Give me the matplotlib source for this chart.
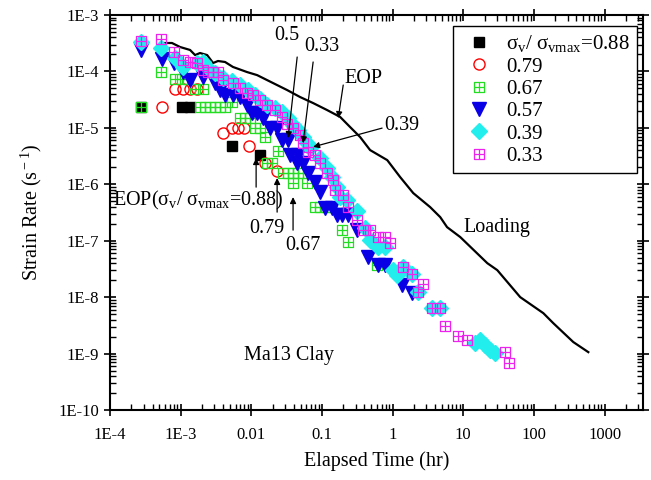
import numpy as np
import matplotlib
matplotlib.use("Agg")
import matplotlib.pyplot as plt
from matplotlib.path import Path
from matplotlib.ticker import LogLocator, FixedLocator, FixedFormatter, NullFormatter

plt.rcParams['font.family'] = ['Liberation Serif', 'DejaVu Serif']
plt.rcParams['mathtext.fontset'] = 'custom'
plt.rcParams['mathtext.rm'] = 'Liberation Serif'
plt.rcParams['mathtext.it'] = 'Liberation Serif'
plt.rcParams['mathtext.bf'] = 'Liberation Serif:bold'

# ---------------- data (elapsed time in hr, strain rate in 1/s) ----------------
t_088 = [2.75e-4, 1.05e-3, 1.36e-3, 5.3e-3, 1.33e-2]
r_088 = [2.34e-5, 2.34e-5, 2.34e-5, 4.76e-6, 3.29e-6]

t_079 = [5.45e-4, 8.3e-4, 1.08e-3, 1.36e-3, 1.71e-3, 3.98e-3, 5.35e-3, 6.45e-3,
         7.9e-3, 9.3e-3, 1.57e-2, 2.32e-2]
r_079 = [2.34e-5, 4.87e-5, 4.87e-5, 4.87e-5, 4.87e-5, 8.1e-6, 9.9e-6, 9.9e-6,
         9.9e-6, 4.76e-6, 2.37e-6, 1.75e-6]

t_067 = [2.75e-4, 5.27e-4, 8.3e-4, 1.05e-3, 1.27e-3, 1.6e-3, 2.08e-3,
         1.88e-3, 2.21e-3, 2.6e-3, 3.07e-3, 3.61e-3, 4.25e-3, 5.35e-3,
         6.95e-3, 8.2e-3, 9.6e-3, 1.13e-2, 1.33e-2, 1.57e-2, 2.4e-2,
         1.67e-2, 1.97e-2, 2.82e-2, 3.32e-2, 3.9e-2, 4.6e-2, 5.4e-2,
         3.9e-2, 6.17e-2, 8.0e-2, 9.4e-2, 0.115, 0.139, 0.193, 0.235, 0.6]
r_067 = [2.34e-5, 9.75e-5, 7.33e-5, 7.33e-5, 7.33e-5, 4.87e-5, 4.87e-5,
         2.34e-5, 2.34e-5, 2.34e-5, 2.34e-5, 2.34e-5, 2.34e-5, 2.87e-5,
         1.49e-5, 1.49e-5, 1.49e-5, 9.9e-6, 9.9e-6, 6.87e-6, 3.88e-6,
         2.37e-6, 2.37e-6, 1.58e-6, 1.58e-6, 1.58e-6, 1.58e-6, 1.58e-6,
         1.05e-6, 1.05e-6, 3.94e-7, 3.94e-7, 3.94e-7, 3.94e-7, 1.54e-7, 9.4e-8, 3.69e-8]

t_057 = [2.75e-4, 5.45e-4, 8.04e-4, 1.08e-3, 1.36e-3, 2.08e-3, 3.07e-3, 3.61e-3,
         4.25e-3, 5.5e-3, 6.95e-3, 8.7e-3, 1.03e-2, 1.21e-2, 1.47e-2, 1.85e-2,
         2.32e-2, 2.73e-2, 3.32e-2, 3.54e-2, 4.6e-2, 4.46e-2, 5.4e-2, 6.37e-2,
         8.0e-2, 9.4e-2, 0.11, 0.139, 0.164, 0.193, 0.235, 0.315, 0.45, 0.62,
         0.79, 1.37, 1.9]
r_057 = [2.4e-4, 1.66e-4, 1.41e-4, 9.75e-5, 7.03e-5, 7.96e-5, 6.22e-5, 4.68e-5,
         3.81e-5, 3.81e-5, 3.52e-5, 2.54e-5, 1.83e-5, 1.83e-5, 1.49e-5, 9.9e-6,
         9.9e-6, 6.08e-6, 6.08e-6, 3.29e-6, 3.29e-6, 2.37e-6, 2.37e-6, 1.58e-6,
         1.09e-6, 7.27e-7, 3.79e-7, 3.79e-7, 2.84e-7, 2.84e-7, 2.84e-7, 1.54e-7,
         5.12e-8, 3.69e-8, 3.69e-8, 1.63e-8, 1.18e-8]

t_039 = [2.75e-4, 5.27e-4, 8.3e-4, 1.08e-3, 1.71e-3, 2.08e-3, 2.6e-3, 3.07e-3,
         3.98e-3, 5.35e-3, 6.95e-3, 8.98e-3, 1.13e-2, 1.33e-2, 1.67e-2, 2.17e-2,
         2.73e-2, 3.32e-2, 3.9e-2, 4.6e-2, 5.4e-2, 6.17e-2, 6.8e-2, 9.4e-2,
         0.118, 0.139, 0.164, 0.181, 0.228, 0.315, 0.409, 0.48, 0.62, 0.79,
         1.0, 1.16, 1.41, 1.9, 2.3, 3.64, 4.72, 14.8, 17.4, 20.5, 24.1, 28.4]
r_039 = [3.32e-4, 2.6e-4, 1.73e-4, 1.2e-4, 1.41e-4, 1.47e-4, 1.06e-4, 9.37e-5,
         7.64e-5, 6.75e-5, 5.74e-5, 4.68e-5, 3.81e-5, 3.24e-5, 2.54e-5, 2.25e-5,
         1.9e-5, 1.49e-5, 1.12e-5, 9.1e-6, 6.87e-6, 5.37e-6, 4.38e-6, 2.91e-6,
         1.94e-6, 1.34e-6, 8.9e-7, 5.93e-7, 5.24e-7, 3.35e-7, 1.67e-7, 1.03e-7,
         7.7e-8, 7.7e-8, 3.01e-8, 2.45e-8, 3.4e-8, 2.56e-8, 1.23e-8, 6.38e-9,
         6.38e-9, 1.53e-9, 1.73e-9, 1.41e-9, 1.15e-9, 1.02e-9]

t_033 = [2.75e-4, 5.27e-4, 8.04e-4, 1.08e-3, 1.36e-3, 1.71e-3, 2.08e-3, 2.45e-3,
         2.88e-3, 3.38e-3, 3.98e-3, 5.5e-3, 6.95e-3, 8.7e-3, 1.06e-2, 1.33e-2,
         1.67e-2, 2.17e-2, 2.73e-2, 3.21e-2, 3.9e-2, 4.9e-2, 5.4e-2, 6.37e-2,
         8.0e-2, 9.4e-2, 0.118, 0.144, 0.154, 0.2, 0.235, 0.315, 0.383, 0.48,
         0.62, 0.79, 0.92, 1.41, 1.9, 2.71, 2.3, 3.64, 4.72, 5.56, 8.5, 11.4,
         39.3, 44.8]
r_033 = [3.46e-4, 3.75e-4, 2.2e-4, 1.6e-4, 1.47e-4, 1.41e-4, 1.06e-4, 9.75e-5,
         9.75e-5, 9.75e-5, 7.03e-5, 6.22e-5, 5.08e-5, 4.14e-5, 3.81e-5, 3.11e-5,
         2.54e-5, 2.07e-5, 1.56e-5, 1.17e-5, 9.9e-6, 7.45e-6, 5.37e-6, 3.72e-6,
         3.29e-6, 2.37e-6, 1.58e-6, 1.19e-6, 7.9e-7, 6.43e-7, 3.94e-7, 2.32e-7,
         1.54e-7, 1.54e-7, 1.16e-7, 1.16e-7, 9.07e-8, 3.4e-8, 2.56e-8, 1.7e-8,
         1.23e-8, 6.38e-9, 6.38e-9, 3.07e-9, 2.03e-9, 1.73e-9, 1.06e-9, 6.75e-10]

t_load = [5.45e-4, 7.54e-4, 9.8e-4, 1.36e-3, 1.6e-3, 1.88e-3, 2.37e-3, 2.88e-3,
          3.38e-3, 4.25e-3, 5.5e-3, 8.7e-3, 1.21e-2, 1.67e-2, 3.21e-2, 4.9e-2,
          7.5e-2, 0.118, 0.181, 0.251, 0.347, 0.48, 0.84, 1.28, 1.96, 3.4, 4.72,
          5.9, 9.07, 21.9, 30.3, 64, 136, 188, 361, 589]
r_load = [3.19e-4, 3.19e-4, 2.71e-4, 2.4e-4, 1.95e-4, 2.12e-4, 1.95e-4, 1.41e-4,
          1.53e-4, 1.47e-4, 1.2e-4, 9.75e-5, 8.6e-5, 7.03e-5, 4.68e-5, 3.52e-5,
          2.75e-5, 2.07e-5, 1.56e-5, 1.03e-5, 6.87e-6, 4.04e-6, 2.68e-6, 1.34e-6,
          6.98e-7, 3.94e-7, 2.62e-7, 1.74e-7, 1.16e-7, 4.0e-8, 3.01e-8, 1e-8,
          5.2e-9, 3.46e-9, 1.6e-9, 1.06e-9]

x_ticks = [1e-4, 1e-3, 1e-2, 1e-1, 1, 10, 100, 1000]
x_ticklabels = ['1E-4', '1E-3', '0.01', '0.1', '1', '10', '100', '1000']
y_ticks = [1e-10, 1e-9, 1e-8, 1e-7, 1e-6, 1e-5, 1e-4, 1e-3]
y_ticklabels = ['1E-10', '1E-9', '1E-8', '1E-7', '1E-6', '1E-5', '1E-4', '1E-3']

# ---------------- figure ----------------
fig = plt.figure(figsize=(6.51, 4.8), dpi=100)
ax = fig.add_axes([110/651, 70/480, 533/651, 395/480])

grid_sq = Path([(-1, -1), (1, -1), (1, 1), (-1, 1), (-1, -1),
                (0, -1), (0, 1), (-1, 0), (1, 0)],
               [Path.MOVETO, Path.LINETO, Path.LINETO, Path.LINETO, Path.LINETO,
                Path.MOVETO, Path.LINETO, Path.MOVETO, Path.LINETO])

ax.plot(t_load, r_load, color='black', lw=1.6, zorder=2)

h1, = ax.plot(t_088, r_088, ls='none', marker='s', ms=7.5, color='black',
              label=r'$\sigma_{\rm v}$/ $\sigma_{\rm vmax}$=0.88', zorder=3)
h2, = ax.plot(t_079, r_079, ls='none', marker='o', ms=8, mfc='none', mec='red',
              mew=1.0, label='0.79', zorder=3)
h3, = ax.plot(t_067, r_067, ls='none', marker=grid_sq, ms=7, mfc='none',
              mec='#22dd22', mew=0.9, label='0.67', zorder=3)
h4, = ax.plot(t_057, r_057, ls='none', marker='v', ms=10, color='#0a00e6',
              label='0.57', zorder=3)
h5, = ax.plot(t_039, r_039, ls='none', marker='D', ms=8, color='#22eeee',
              mec='#22eeee', label='0.39', zorder=3)
h6, = ax.plot(t_033, r_033, ls='none', marker=grid_sq, ms=7, mfc='none',
              mec='#ee22ee', mew=0.9, label='0.33', zorder=3)

ax.set_xscale('log')
ax.set_yscale('log')
ax.set_xlim(1e-4, 3500)
ax.set_ylim(1e-10, 1e-3)

ax.xaxis.set_major_locator(FixedLocator(x_ticks))
ax.xaxis.set_major_formatter(FixedFormatter(x_ticklabels))
ax.yaxis.set_major_locator(FixedLocator(y_ticks))
ax.yaxis.set_major_formatter(FixedFormatter(y_ticklabels))
ax.xaxis.set_minor_locator(LogLocator(base=10, subs=np.arange(2, 10), numticks=20))
ax.yaxis.set_minor_locator(LogLocator(base=10, subs=np.arange(2, 10), numticks=20))
ax.xaxis.set_minor_formatter(NullFormatter())
ax.yaxis.set_minor_formatter(NullFormatter())

ax.tick_params(which='major', direction='inout', length=8, width=1.2,
               top=True, right=True, labelsize=12)
ax.tick_params(which='minor', direction='in', length=4, width=1.0,
               top=True, right=True)
ax.tick_params(axis='x', which='major', pad=8)
ax.tick_params(axis='y', which='major', pad=4)
for s in ax.spines.values():
    s.set_linewidth(1.5)

ax.set_xlabel('Elapsed Time (hr)', fontsize=14.5, labelpad=6)
ax.set_ylabel(r'Strain Rate (s$^{\rm -1}$)', fontsize=14.5, labelpad=10)

leg = ax.legend(handles=[h1, h2, h3, h4, h5, h6], loc='upper right',
                bbox_to_anchor=(0.989, 0.972), borderaxespad=0, fontsize=15,
                frameon=True, fancybox=False, edgecolor='black', framealpha=1,
                handlelength=1.8, handletextpad=0.4, labelspacing=0.13,
                borderpad=0.35, numpoints=1)
leg.get_frame().set_linewidth(1.0)

# ---------------- annotations ----------------
afs = 14.5
arrow = dict(arrowstyle='-|>', color='black', lw=0.9, shrinkA=0, shrinkB=0,
             mutation_scale=9)

ax.text(3.21e-2, 4.42e-4, '0.5', fontsize=afs, ha='center', va='center')
ax.annotate('', xy=(3.32e-2, 6.6e-6), xytext=(4.46e-2, 1.8e-4), arrowprops=arrow)

ax.text(0.1, 2.71e-4, '0.33', fontsize=afs, ha='center', va='center')
ax.annotate('', xy=(5.4e-2, 5.37e-6), xytext=(7.5e-2, 1.47e-4), arrowprops=arrow)

ax.text(0.383, 7.64e-5, 'EOP', fontsize=afs, ha='center', va='center')
ax.annotate('', xy=(0.17, 1.49e-5), xytext=(0.2, 5.74e-5), arrowprops=arrow)

ax.text(1.37, 1.12e-5, '0.39', fontsize=afs, ha='center', va='center')
ax.annotate('', xy=(7.5e-2, 4.6e-6), xytext=(0.71, 9.9e-6), arrowprops=arrow)

ax.text(1.1e-4, 5.24e-7, r'EOP($\sigma_{\rm v}$/ $\sigma_{\rm vmax}$=0.88)',
        fontsize=afs, ha='left', va='center')
ax.annotate('', xy=(1.17e-2, 2.91e-6), xytext=(1.17e-2, 8.9e-7), arrowprops=arrow)

ax.text(1.67e-2, 1.67e-7, '0.79', fontsize=afs, ha='center', va='center')
ax.annotate('', xy=(2.32e-2, 1.29e-6), xytext=(2.32e-2, 3.21e-7), arrowprops=arrow)

ax.text(5.4e-2, 8.35e-8, '0.67', fontsize=afs, ha='center', va='center')
ax.annotate('', xy=(3.9e-2, 5.93e-7), xytext=(3.9e-2, 1.54e-7), arrowprops=arrow)

ax.text(3.4e-2, 9.4e-10, 'Ma13 Clay', fontsize=afs, ha='center', va='center')
ax.text(30.3, 1.74e-7, 'Loading', fontsize=afs, ha='center', va='center')

fig.savefig('out.png', dpi=100)
